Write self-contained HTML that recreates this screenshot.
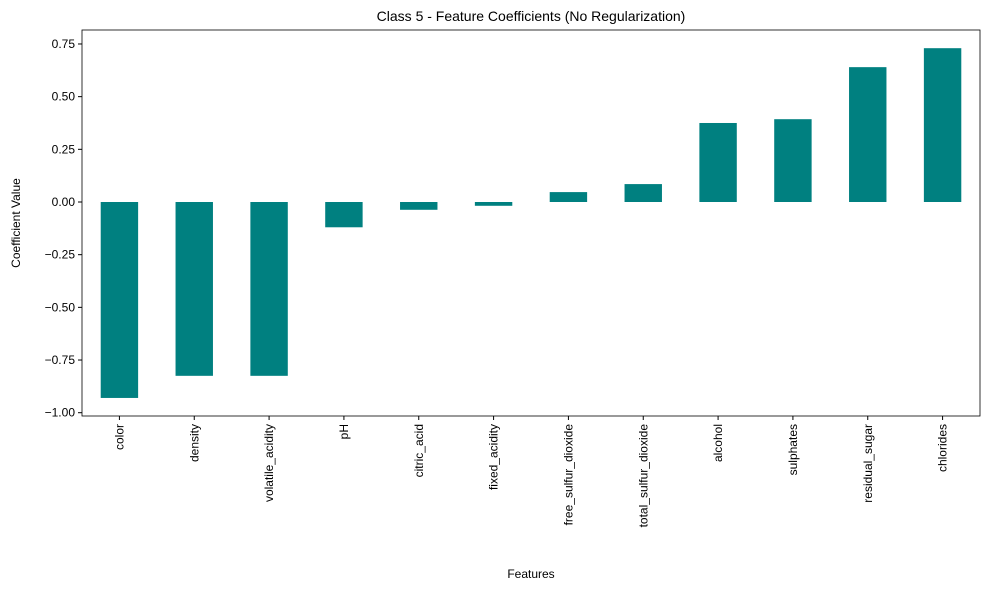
<!DOCTYPE html>
<html><head><meta charset="utf-8"><style>
body{margin:0;background:#fff;}
svg{display:block;font-family:"Liberation Sans","DejaVu Sans",sans-serif;}
</style></head><body>
<svg id="chart" width="989" height="590" viewBox="0 0 989 590">
<rect width="989" height="590" fill="#fff"/>
<text x="531" y="21" font-size="14" text-anchor="middle">Class 5 - Feature Coefficients (No Regularization)</text>
<g id="bars"></g>
<g id="yaxis"></g>
<g id="xaxis"></g>
<rect x="82" y="30" width="898" height="386" fill="none" stroke="#000" stroke-width="0.8"/>
<text x="531" y="578" font-size="12" text-anchor="middle">Features</text>
<text transform="translate(20,223) rotate(-90)" font-size="12" text-anchor="middle">Coefficient Value</text>
</svg>
<script>
const categories=["color","density","volatile_acidity","pH","citric_acid","fixed_acidity","free_sulfur_dioxide","total_sulfur_dioxide","alcohol","sulphates","residual_sugar","chlorides"];
const values=[-0.93,-0.825,-0.825,-0.12,-0.037,-0.018,0.047,0.085,0.375,0.393,0.64,0.73];
const yTicks=[0.75,0.5,0.25,0,-0.25,-0.5,-0.75,-1.0];
const yTickLabels=["0.75","0.50","0.25","0.00","\u22120.25","\u22120.50","\u22120.75","\u22121.00"];
const NS="http://www.w3.org/2000/svg";
const L=82,R=980;
function y(v){return 202-v*210.7;}
const step=(R-L)/categories.length;
function xc(i){return L+step*(i+0.5);}
const bw=step*0.5;
const gb=document.getElementById('bars'),gy=document.getElementById('yaxis'),gx=document.getElementById('xaxis');
values.forEach((v,i)=>{
 const r=document.createElementNS(NS,'rect');
 r.setAttribute('x',xc(i)-bw/2);r.setAttribute('width',bw);
 r.setAttribute('y',Math.min(y(v),y(0)));r.setAttribute('height',Math.abs(y(v)-y(0)));
 r.setAttribute('fill','#008080');
 
 
 gb.appendChild(r);
});
yTicks.forEach((t,i)=>{
 const l=document.createElementNS(NS,'line');
 l.setAttribute('x1',L-4);l.setAttribute('x2',L);l.setAttribute('y1',y(t));l.setAttribute('y2',y(t));l.setAttribute('stroke','#000');
 
 
 gy.appendChild(l);
 const tx=document.createElementNS(NS,'text');
 tx.setAttribute('x',L-7);tx.setAttribute('y',y(t)+4);tx.setAttribute('font-size','12');tx.setAttribute('text-anchor','end');
 tx.textContent=yTickLabels[i];
 
 
 gy.appendChild(tx);
});
categories.forEach((c,i)=>{
 const l=document.createElementNS(NS,'line');
 l.setAttribute('x1',xc(i));l.setAttribute('x2',xc(i));l.setAttribute('y1',416);l.setAttribute('y2',420);l.setAttribute('stroke','#000');
 
 
 gx.appendChild(l);
 const tx=document.createElementNS(NS,'text');
 tx.setAttribute('transform','translate('+(xc(i)+4)+',424) rotate(-90)');
 tx.setAttribute('font-size','12');tx.setAttribute('text-anchor','end');
 tx.textContent=c;
 
 
 gx.appendChild(tx);
});
</script>
</body></html>
